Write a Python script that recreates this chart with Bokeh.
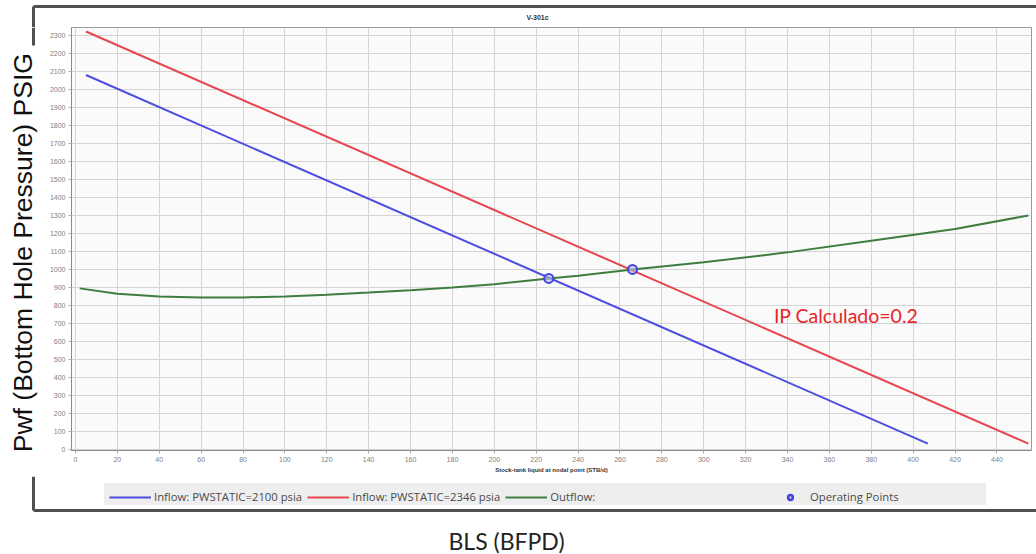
import math
from bokeh.plotting import figure
from bokeh.models import (Label, Legend, LegendItem, FixedTicker, BoxAnnotation)
from bokeh.layouts import column, row
from bokeh.embed import file_html
from bokeh.resources import INLINE

# ---- data ----
inflow_2100_x = [5, 407]
inflow_2100_y = [2080, 33]
inflow_2346_x = [5, 455]
inflow_2346_y = [2322, 33]
outflow_x = [2, 20, 40, 60, 80, 100, 120, 140, 160, 180, 200, 226, 240, 266, 300, 340, 380, 420, 455]
outflow_y = [895, 865, 850, 845, 845, 850, 860, 872, 885, 900, 918, 950, 965, 1000, 1040, 1095, 1160, 1225, 1300]
op_x = [226, 266]
op_y = [950, 1000]
x_ticks = list(range(0, 441, 20))
y_ticks = list(range(0, 2301, 100))

title_text = "V-301c"
y_title = "Pwf (Bottom Hole Pressure) PSIG"
x_small_title = "Stock-tank liquid at nodal point (STB/d)"
x_big_title = "BLS (BFPD)"
ip_text = "IP Calculado=0.2"
legend_labels = ["Inflow: PWSTATIC=2100 psia", "Inflow: PWSTATIC=2346 psia", "Outflow:", "Operating Points"]

BLUE = "#4d4ddf"
RED = "#e6474d"
GREEN = "#3f7d3f"
OP_LINE = "#4444dd"
OP_FILL = "#b8b8ee"
FRAME = "#505050"

W = 1036
TOP_H = 27
MID_H = 449
BOT_H = 554 - TOP_H - MID_H
LEFT_W = 40


def blank(width, height):
    f = figure(width=width, height=height, x_range=(0, width), y_range=(0, height),
               x_axis_type=None, y_axis_type=None, output_backend="svg", toolbar_location=None,
               min_border=0, background_fill_color="white", border_fill_color="white")
    f.outline_line_color = None
    f.grid.visible = False
    return f


# ---- header strip: chart title and top edge of the pasted frame ----
top = blank(W, TOP_H)
top.line([33, W], [21, 21], line_color=FRAME, line_width=3)
top.line([33, 33], [21, 0], line_color=FRAME, line_width=3)
top.add_layout(Label(x=537, y=10, text=title_text, text_font_size="7px", text_font_style="bold",
                     text_color="#333333", text_font="Liberation Sans", text_align="center",
                     text_baseline="middle"))

# ---- left strip: big y title ----
left = blank(LEFT_W, MID_H)
left.line([33, 33], [MID_H, MID_H - 19], line_color=FRAME, line_width=3)
left.add_layout(Label(x=22, y=210, text=y_title, angle=math.pi / 2,
                      text_font_size="26.5px", text_font="Liberation Sans", text_color="#111111",
                      text_align="center", text_baseline="middle"))

# ---- main chart ----
p = figure(width=W - LEFT_W, height=MID_H, x_range=(-1.9, 456.5), y_range=(-5.5, 2344),
           output_backend="svg", toolbar_location=None,
           min_border_left=71 - LEFT_W, min_border_right=5, min_border_top=0, min_border_bottom=26,
           background_fill_color="#fafafa", border_fill_color="white")
p.outline_line_color = "#9a9a9a"

p.xaxis.ticker = FixedTicker(ticks=x_ticks)
p.yaxis.ticker = FixedTicker(ticks=y_ticks)
for ax in (p.xaxis[0], p.yaxis[0]):
    ax.major_label_text_font_size = "7px"
    ax.major_label_text_color = "#808080"
    ax.major_label_text_font = "Liberation Sans"
    ax.axis_line_color = "#8a8a8a"
    ax.major_tick_line_color = "#aaaaaa"
    ax.major_tick_out = 3
    ax.major_tick_in = 0
    ax.minor_tick_line_color = None
    ax.major_label_standoff = 3
p.xaxis.axis_label = x_small_title
p.xaxis.axis_label_text_font_size = "6px"
p.xaxis.axis_label_text_font_style = "bold"
p.xaxis.axis_label_text_color = "#333333"
p.xaxis.axis_label_text_font = "Liberation Sans"
p.xaxis.axis_label_standoff = 2

p.xgrid.ticker = FixedTicker(ticks=x_ticks)
p.ygrid.ticker = FixedTicker(ticks=y_ticks)
p.grid.grid_line_color = "#d4d4d4"
p.grid.grid_line_width = 1

p.line(inflow_2100_x, inflow_2100_y, line_color=BLUE, line_width=2)
p.line(inflow_2346_x, inflow_2346_y, line_color=RED, line_width=2)
p.line(outflow_x, outflow_y, line_color=GREEN, line_width=2)
p.scatter(op_x, op_y, marker="circle", size=9, line_color=OP_LINE, line_width=2,
          fill_color=OP_FILL, fill_alpha=0.6)

p.add_layout(Label(x=333.5, y=744, text=ip_text, text_color="#e6262a", text_font_size="19.5px",
                   text_font="Lato", text_baseline="middle", text_align="left"))

# ---- bottom strip: legend, bottom edge of the frame, big x title ----
bot = blank(W, BOT_H)
bot.line([33, 33], [BOT_H, 44], line_color=FRAME, line_width=3)
bot.line([33, W], [44, 44], line_color=FRAME, line_width=3)
bot.add_layout(BoxAnnotation(left=104, right=985, bottom=50, top=71, fill_color="#eeeeee",
                             fill_alpha=1, line_color="#d8d8d8", line_width=1))
# legend proxies, kept outside the visible strip
g_blue = bot.line([-60, -50], [-60, -60], line_color=BLUE, line_width=2)
g_red = bot.line([-60, -50], [-60, -60], line_color=RED, line_width=2)
g_green = bot.line([-60, -50], [-60, -60], line_color=GREEN, line_width=2)
g_op = bot.scatter([-60], [-60], marker="circle", size=10, line_color=OP_LINE, line_width=2.5,
                   fill_color=OP_FILL, fill_alpha=0.6)

common = dict(orientation="horizontal", margin=0, padding=5, glyph_height=12, label_height=12,
              label_text_font_size="11.3px", label_text_font="Open Sans",
              label_text_color="#4a4a4a", background_fill_alpha=0, border_line_color=None)
leg_a = Legend(items=[LegendItem(label=legend_labels[0], renderers=[g_blue]),
                      LegendItem(label=legend_labels[1], renderers=[g_red]),
                      LegendItem(label=legend_labels[2], renderers=[g_green])],
               location=(109, 50), glyph_width=42, label_standoff=3, spacing=5, **common)
leg_b = Legend(items=[LegendItem(label=legend_labels[3], renderers=[g_op])],
               location=(780, 50), glyph_width=20, label_standoff=10, **common)
bot.add_layout(leg_a)
bot.add_layout(leg_b)
bot.add_layout(Label(x=506, y=554 - 540, text=x_big_title, text_font_size="23px", text_font="Lato",
                     text_color="#222222", text_align="center", text_baseline="middle"))

layout = column(top, row(left, p), bot)
open("out.html", "w").write(file_html(layout, INLINE))
